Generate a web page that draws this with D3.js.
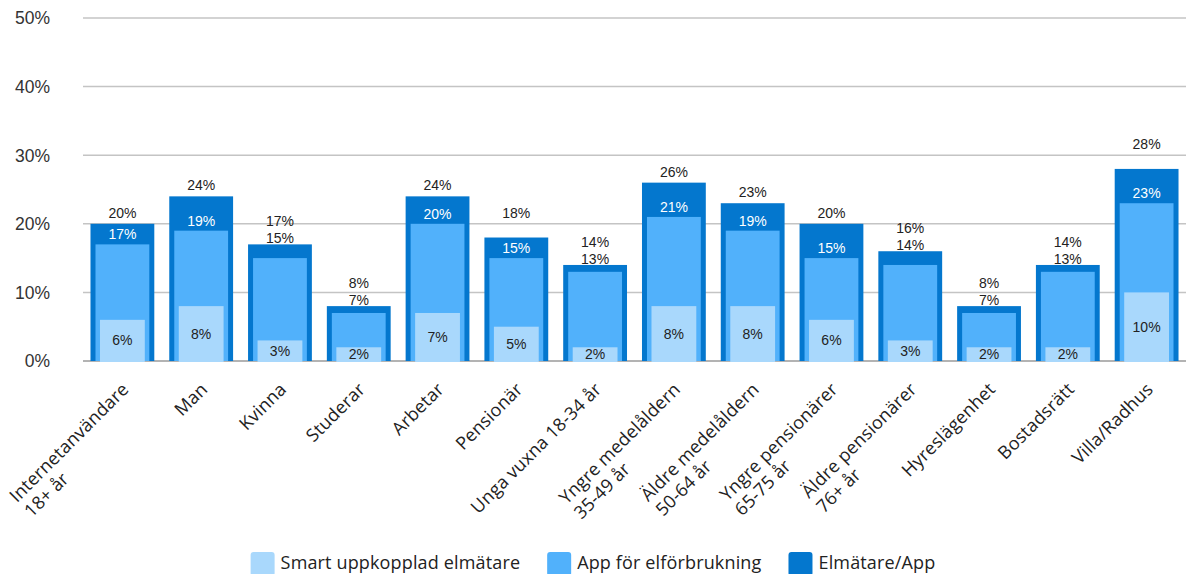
<!DOCTYPE html>
<html lang="sv">
<head>
  <meta charset="UTF-8">
  <title>Elmätare och app</title>
  <script src="https://d3js.org/d3.v7.min.js"></script>
  <style>
    body {
      margin: 0;
      background: #ffffff;
    }
    .ytick text {
      font-family: "Liberation Sans", Arial, sans-serif;
      font-size: 17.5px;
      fill: #333;
    }
    .val {
      font-family: "Liberation Sans", Arial, sans-serif;
      font-size: 14px;
    }
    .xlab, .legend text {
      font-family: "Open Sans", "Noto Sans", sans-serif;
      font-size: 18px;
      letter-spacing: 0.15px;
      fill: #222;
    }
  </style>
</head>
<body>
  <svg id="chart"></svg>
  <script>
    const categories = [
      "Internetanvändare\n18+ år", "Man", "Kvinna", "Studerar", "Arbetar", "Pensionär",
      "Unga vuxna 18-34 år", "Yngre medelåldern\n35-49 år", "Äldre medelåldern\n50-64 år",
      "Yngre pensionärer\n65-75 år", "Äldre pensionärer\n76+ år", "Hyreslägenhet",
      "Bostadsrätt", "Villa/Radhus"
    ];
    const smartMeter = [6, 8, 3, 2, 7, 5, 2, 8, 8, 6, 3, 2, 2, 10];
    const appUsage = [17, 19, 15, 7, 20, 15, 13, 21, 19, 15, 14, 7, 13, 23];
    const meterOrApp = [20, 24, 17, 8, 24, 18, 14, 26, 23, 20, 16, 8, 14, 28];
    const yTicks = [0, 10, 20, 30, 40, 50];
    const seriesNames = ["Smart uppkopplad elmätare", "App för elförbrukning", "Elmätare/App"];
    const colors = ["#a9d8fc", "#51b1fb", "#0477ce"];

    const W = 1186, H = 574;
    const svg = d3.select("#chart").attr("width", W).attr("height", H);

    const x = d3.scaleBand().domain(categories).range([83, 1186])
      .paddingInner(0.19).paddingOuter(0.095);
    const y = d3.scaleLinear().domain([0, 50]).range([361, 18]);

    // grid
    const grid = svg.append("g");
    grid.selectAll("line").data(yTicks).enter().append("line")
      .attr("x1", 83).attr("x2", W)
      .attr("y1", d => y(d)).attr("y2", d => y(d))
      .attr("stroke", d => d === 0 ? "#9a9a9a" : "#c4c4c4")
      .attr("stroke-width", 1.5);

    const yt = svg.append("g").attr("class", "ytick");
    yt.selectAll("text").data(yTicks).enter().append("text")
      .attr("x", 50).attr("y", d => y(d)).attr("dy", "0.36em")
      .attr("text-anchor", "end")
      .text(d => d + "%");

    const bw = x.bandwidth();
    const idx = categories.map((c, i) => i);

    // bars, drawn back to front
    svg.append("g").selectAll("rect").data(idx).enter().append("rect")
      .attr("x", i => x(categories[i])).attr("width", bw)
      .attr("y", i => y(meterOrApp[i])).attr("height", i => y(0) - y(meterOrApp[i]))
      .attr("fill", colors[2]);
    svg.append("g").selectAll("rect").data(idx).enter().append("rect")
      .attr("x", i => x(categories[i]) + 5).attr("width", bw - 10)
      .attr("y", i => y(appUsage[i])).attr("height", i => y(0) - y(appUsage[i]))
      .attr("fill", colors[1]);
    svg.append("g").selectAll("rect").data(idx).enter().append("rect")
      .attr("x", i => x(categories[i]) + 9.5).attr("width", bw - 19)
      .attr("y", i => y(smartMeter[i])).attr("height", i => y(0) - y(smartMeter[i]) + 1)
      .attr("fill", colors[0]);

    // value labels
    const labels = svg.append("g");
    const cx = i => x(categories[i]) + bw / 2;
    const gridYs = yTicks.map(t => y(t));
    idx.forEach(i => {
      const top = y(meterOrApp[i]);
      const fits = meterOrApp[i] - appUsage[i] >= 3;
      let outerY;
      if (fits) {
        outerY = top - 11;
        const g = gridYs.find(gy => Math.abs(gy - outerY) < 6);
        if (g !== undefined) outerY = g - 11;
        labels.append("text").attr("class", "val")
          .attr("x", cx(i)).attr("y", y(appUsage[i]) - 10).attr("dy", "0.36em")
          .attr("text-anchor", "middle").attr("fill", "#fff")
          .text(appUsage[i] + "%");
      } else {
        outerY = top - 23;
        labels.append("text").attr("class", "val")
          .attr("x", cx(i)).attr("y", top - 6).attr("dy", "0.36em")
          .attr("text-anchor", "middle").attr("fill", "#222")
          .text(appUsage[i] + "%");
      }
      labels.append("text").attr("class", "val")
        .attr("x", cx(i)).attr("y", outerY).attr("dy", "0.36em")
        .attr("text-anchor", "middle").attr("fill", "#222")
        .text(meterOrApp[i] + "%");
      labels.append("text").attr("class", "val")
        .attr("x", cx(i)).attr("y", (y(smartMeter[i]) + y(0)) / 2).attr("dy", "0.36em")
        .attr("text-anchor", "middle").attr("fill", "#222")
        .text(smartMeter[i] + "%");
    });

    // x labels, rotated; lines left aligned inside a right aligned block
    const xl = svg.append("g");
    categories.forEach((c, i) => {
      const g = xl.append("g")
        .attr("transform", `translate(${cx(i) + 3},${386}) rotate(-45)`);
      const t = g.append("text").attr("class", "xlab");
      c.split("\n").forEach((ln, k) => {
        t.append("tspan").attr("x", 0).attr("dy", k === 0 ? "0.35em" : "21px").text(ln);
      });
      let maxW = 0;
      t.selectAll("tspan").each(function () { maxW = Math.max(maxW, this.getComputedTextLength()); });
      t.selectAll("tspan").attr("x", -maxW);
    });

    // legend
    const leg = svg.append("g").attr("class", "legend");
    const items = seriesNames.map((n, k) => {
      const g = leg.append("g");
      g.append("rect").attr("width", 24).attr("height", 24).attr("rx", 3).attr("fill", colors[k]);
      const tx = g.append("text").attr("x", 30).attr("y", 16.5).text(n);
      return { g, w: 30 + tx.node().getComputedTextLength() };
    });
    const gap = 27;
    const total = d3.sum(items, d => d.w) + gap * (items.length - 1);
    let lx = W / 2 - total / 2;
    items.forEach(it => {
      it.g.attr("transform", `translate(${lx},552)`);
      lx += it.w + gap;
    });
  </script>
</body>
</html>
